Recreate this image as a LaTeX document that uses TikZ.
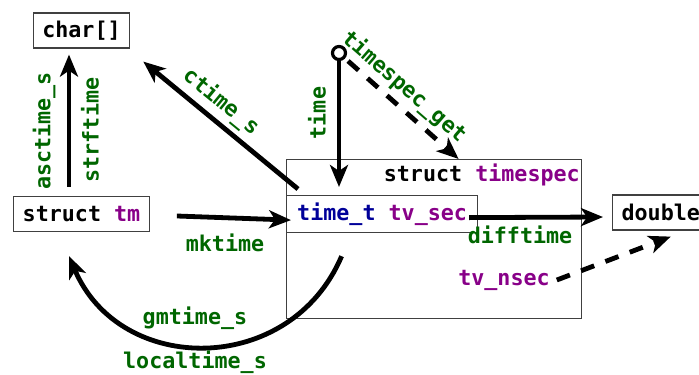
\documentclass[tikz,border=0pt]{standalone}
\usepackage{fontspec}
\setmonofont{DejaVu Sans Mono}
\usepackage{xcolor}
\usetikzlibrary{arrows.meta}
\definecolor{fngreen}{HTML}{006600}
\definecolor{typurple}{HTML}{880088}
\definecolor{tyblue}{HTML}{000099}

\begin{document}
\begin{tikzpicture}[x=0.5pt,y=-0.5pt,
  every node/.style={font=\ttfamily\bfseries\fontsize{10.85}{12}\selectfont},
  box/.style={draw=black!75, line width=0.6pt, inner xsep=4.5pt, minimum height=17.5pt},
  conv/.style={line width=2.4pt, -{Stealth[length=11pt,width=9pt,inset=3pt]}},
  partial/.style={dash pattern=on 7pt off 6pt},
  fn/.style={text=fngreen},
  member/.style={text=typurple}]
  \useasboundingbox (0,0) rectangle (699,374);

  % Types
  \node[box] (chr) at (81.5,30.5) {char[]};
  \node[box] (tm) at (81.5,214) {struct \textcolor{typurple}{tm}};
  \node[box, anchor=west] (dbl) at (612,212.5) {double};

  % struct timespec
  \node[draw=black!75, line width=0.6pt, minimum width=147.5pt, minimum height=79.5pt,
    anchor=north west] (ts) at (286,159) {};
  \node[anchor=north east, inner xsep=1pt, inner ysep=2pt] at (ts.north east)
    {struct \textcolor{typurple}{timespec}};
  \node[box, anchor=north west, minimum width=95.5pt, minimum height=18.5pt] (tv) at (286,195)
    {\textcolor{tyblue}{time\_t} \textcolor{typurple}{tv\_sec}};
  \node[member] (nsec) at (504,280) {tv\_nsec};

  % Conversions
  \draw[conv] ([xshift=-6.25pt,yshift=4.5pt]tm.north) -- ([xshift=-6.25pt,yshift=-3pt]chr.south);
  \draw[conv] ([shift={(6pt,-15pt)}]ts.north west) -- ([shift={(6.5pt,-6.5pt)}]chr.south east);
  \draw[conv] ([shift={(13.5pt,-1pt)}]tm.east) -- ([shift={(2.5pt,-3pt)}]tv.west);
  \draw[conv] ([shift={(-4.5pt,-1.75pt)}]tv.east) -- ([shift={(-4.5pt,-2.25pt)}]dbl.west);
  \draw[conv, partial] (nsec.east) -- ([shift={(5pt,-3pt)}]dbl.south);
  \draw[conv] ([shift={(-20.25pt,-11.5pt)}]tv.south) to[bend left=67, looseness=1.23]
    ([shift={(-6.25pt,-12pt)}]tm.south);

  % Clock source
  \node[circle, draw, line width=1.6pt, fill=white, inner sep=0pt, minimum size=6.5pt] (src) at (339,53) {};
  \draw[conv] (src.south) -- ([yshift=4pt]src |- tv.north);
  \draw[conv, partial, shorten <=2pt] (src) -- ([xshift=12.25pt]ts.north);

  % Function names
  \node[fn, rotate=90] at (44,131) {asctime\_s};
  \node[fn, rotate=90] at (90,130) {strftime};
  \node[fn, rotate=-39.3] at (221,102) {ctime\_s};
  \node[fn, rotate=90] at (317,113) {time};
  \node[fn, rotate=-41] at (404,87) {timespec\_get};
  \node[fn] at (225,243) {mktime};
  \node[fn] at (520,235) {difftime};
  \node[fn] at (195,318) {gmtime\_s};
  \node[fn] at (195,362) {localtime\_s};
\end{tikzpicture}
\end{document}
